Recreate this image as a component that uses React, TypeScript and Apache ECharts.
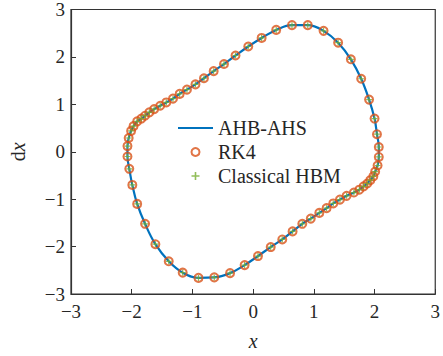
import React, { useEffect, useRef } from "react";
import * as echarts from "echarts";

const xValues = [
  -2.07, -2.05, -2.01, -1.97, -1.91, -1.84, -1.78, -1.71, -1.63, -1.53, -1.43, -1.32, -1.21, -1.09, -0.95, -0.81,
  -0.65, -0.48, -0.29, -0.08, 0.14, 0.38, 0.64, 0.9, 1.16, 1.4, 1.61, 1.78, 1.91, 2.0, 2.04, 2.07,
  2.07, 2.05, 2.01, 1.98, 1.93, 1.88, 1.82, 1.75, 1.66, 1.54, 1.43, 1.32, 1.21, 1.09, 0.95, 0.81,
  0.65, 0.48, 0.29, 0.08, -0.14, -0.38, -0.64, -0.9, -1.16, -1.39, -1.61, -1.78, -1.91, -1.99, -2.04, -2.07,
];
const dxValues = [
  0.12, 0.29, 0.44, 0.54, 0.64, 0.7, 0.76, 0.83, 0.9, 0.97, 1.04, 1.12, 1.22, 1.31, 1.42, 1.55,
  1.7, 1.85, 2.03, 2.22, 2.4, 2.57, 2.67, 2.67, 2.55, 2.3, 1.95, 1.54, 1.1, 0.7, 0.37, 0.1,
  -0.11, -0.29, -0.42, -0.52, -0.6, -0.67, -0.73, -0.8, -0.86, -0.93, -1.01, -1.09, -1.19, -1.29, -1.41, -1.52,
  -1.68, -1.85, -2.01, -2.2, -2.39, -2.56, -2.65, -2.66, -2.55, -2.31, -1.95, -1.52, -1.1, -0.7, -0.36, -0.1,
];
const seriesNames = ["AHB-AHS", "RK4", "Classical HBM"];
const tickMin = -3;
const tickMax = 3;

const FONT = "'Liberation Serif', 'Times New Roman', serif";
const TEXT = "#262626";
const AXIS = "#333333";

export default function App() {
  const ref = useRef<HTMLDivElement>(null);
  useEffect(() => {
    document.body.style.margin = "0";
    const chart = echarts.init(ref.current!, undefined, { renderer: "svg" });
    const pts = xValues.map((x, i) => [x, dxValues[i]]);
    const closed = [...pts, pts[0]];
    const fmt = (v: number) => String(v).replace("-", "\u2212");
    const plusPath = "path://M4,0H6V4H10V6H6V10H4V6H0V4H4Z";
    chart.setOption({
      animation: false,
      backgroundColor: "#ffffff",
      grid: {
        left: 61,
        top: 9,
        width: 377,
        height: 295,
        show: true,
        borderColor: AXIS,
        borderWidth: 1.2,
        backgroundColor: "transparent",
      },
      legend: {
        orient: "vertical",
        left: 177,
        top: 118,
        padding: 0,
        itemWidth: 35,
        itemHeight: 8,
        itemGap: 4,
        textStyle: { fontFamily: FONT, fontSize: 20, color: TEXT },
        data: [
          { name: seriesNames[0], itemStyle: { color: "transparent", borderWidth: 0 }, lineStyle: { color: "#0072BD", width: 2 } },
          { name: seriesNames[1], icon: "circle", itemStyle: { color: "transparent", borderColor: "#D95319", borderWidth: 2 } },
          { name: seriesNames[2], icon: plusPath, itemStyle: { color: "#77AC30" } },
        ],
      },
      xAxis: {
        type: "value",
        min: tickMin,
        max: tickMax,
        interval: 1,
        name: "x",
        nameLocation: "middle",
        nameGap: 37,
        nameTextStyle: { fontFamily: FONT, fontSize: 20, fontStyle: "italic", color: TEXT },
        axisLine: { show: true, onZero: false, lineStyle: { color: AXIS, width: 1.2 } },
        axisTick: { show: true, inside: true, length: 5, lineStyle: { color: AXIS, width: 1 } },
        axisLabel: { fontFamily: FONT, fontSize: 19, color: TEXT, margin: 8, formatter: fmt },
        splitLine: { show: false },
      },
      yAxis: {
        type: "value",
        min: tickMin,
        max: tickMax,
        interval: 1,
        name: "{d|d}{x|x}",
        nameLocation: "middle",
        nameGap: 43,
        nameTextStyle: {
          color: TEXT,
          rich: {
            d: { fontFamily: FONT, fontSize: 20, color: TEXT },
            x: { fontFamily: FONT, fontSize: 20, fontStyle: "italic", color: TEXT },
          },
        },
        axisLine: { show: true, onZero: false, lineStyle: { color: AXIS, width: 1.2 } },
        axisTick: { show: true, inside: true, length: 5, lineStyle: { color: AXIS, width: 1 } },
        axisLabel: { fontFamily: FONT, fontSize: 19, color: TEXT, margin: 6, formatter: fmt },
        splitLine: { show: false },
      },
      series: [
        {
          name: seriesNames[0],
          type: "line",
          data: closed,
          symbol: "none",
          smooth: 0.4,
          lineStyle: { color: "#0072BD", width: 2.2 },
          itemStyle: { color: "#0072BD" },
          z: 2,
        },
        {
          name: seriesNames[1],
          type: "scatter",
          data: pts,
          symbol: "circle",
          symbolSize: 8,
          itemStyle: { color: "transparent", borderColor: "#D95319", borderWidth: 2 },
          z: 3,
        },
        {
          name: seriesNames[2],
          type: "scatter",
          data: pts,
          symbol: plusPath,
          symbolSize: 6,
          itemStyle: { color: "#77AC30" },
          z: 4,
        },
      ],
    });
    return () => chart.dispose();
  }, []);
  return <div ref={ref} style={{ width: 443, height: 356 }} />;
}
